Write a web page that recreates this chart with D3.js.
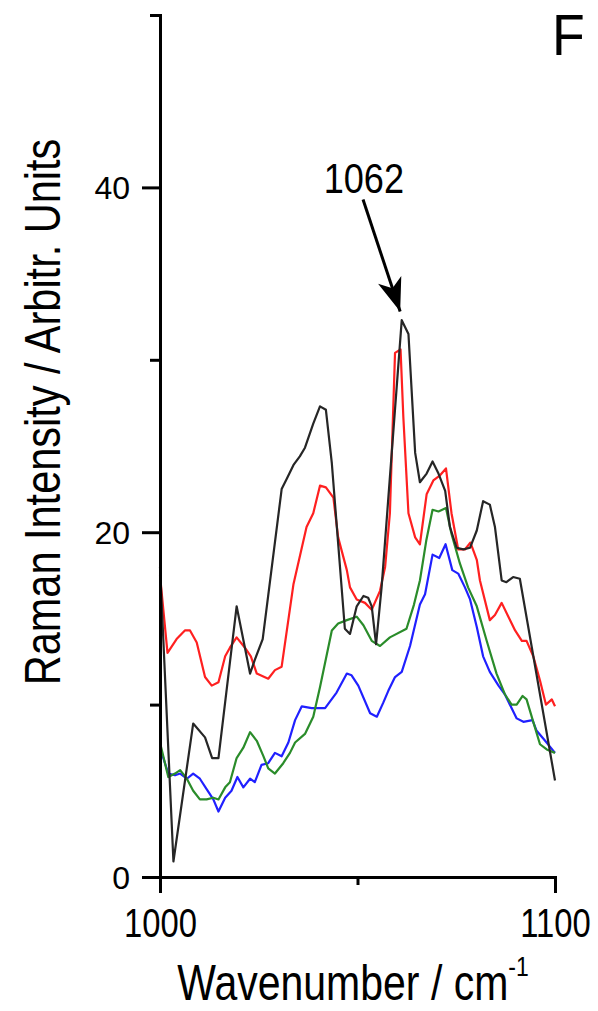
<!DOCTYPE html>
<html>
<head>
<meta charset="utf-8">
<script src="https://cdn.jsdelivr.net/npm/d3@7"></script>
<style>
  html, body { margin: 0; padding: 0; background: #fff; }
  svg { display: block; font-family: 'Liberation Sans', Arial, sans-serif; }
</style>
</head>
<body>
<div class="canvas"></div>
<script>
// spectra (wavenumber / intensity)
const blackWn = [1000, 1003.4, 1008.4, 1011.4, 1013.2, 1014.8, 1019.4, 1022.8, 1024.0, 1026.0, 1030.8, 1032.1, 1033.8, 1035.4, 1036.7, 1038.8, 1040.5, 1042.0, 1043.5, 1046.8, 1048.1, 1049.8, 1051.5, 1052.7, 1053.6, 1054.7, 1056.1, 1061.2, 1062.9, 1064.6, 1065.8, 1067.5, 1069.0, 1070.5, 1072.2, 1073.4, 1075.1, 1076.8, 1078.5, 1080.2, 1081.8, 1083.5, 1084.8, 1086.5, 1087.7, 1089.4, 1091.1, 1100];
const blackInt = [18.0, 0.9, 8.9, 8.1, 6.9, 6.9, 15.7, 11.8, 12.6, 13.8, 22.5, 23.1, 23.9, 24.4, 24.9, 26.3, 27.3, 27.1, 24.0, 14.4, 14.1, 15.7, 16.3, 16.2, 15.7, 13.5, 16.8, 32.3, 31.5, 24.6, 22.9, 23.4, 24.1, 23.4, 22.4, 20.3, 19.1, 19.0, 19.1, 20.1, 21.8, 21.6, 20.3, 17.2, 17.1, 17.4, 17.3, 5.6];

const redWn = [1000, 1001.9, 1004.2, 1006.3, 1007.6, 1009.3, 1011.4, 1013.1, 1014.8, 1016.5, 1017.7, 1019.4, 1021.5, 1023.0, 1024.5, 1027.4, 1029.1, 1030.8, 1033.8, 1035.9, 1037.1, 1038.8, 1040.5, 1042.0, 1043.9, 1045.1, 1047.3, 1048.1, 1049.8, 1051.9, 1053.6, 1055.7, 1057.0, 1058.2, 1059.5, 1060.9, 1061.6, 1062.9, 1064.6, 1065.8, 1067.5, 1069.2, 1070.9, 1072.4, 1073.8, 1075.5, 1077.2, 1078.6, 1080.2, 1081.0, 1083.5, 1084.8, 1086.5, 1088.2, 1089.9, 1091.6, 1092.8, 1094.5, 1096.2, 1097.7, 1099.2, 1100];
const redInt = [17.5, 13.0, 13.8, 14.3, 14.3, 13.6, 11.6, 11.1, 11.3, 12.8, 13.3, 13.9, 13.3, 12.8, 11.8, 11.5, 12.0, 12.2, 17.0, 19.1, 20.3, 21.1, 22.7, 22.6, 22.0, 19.7, 17.8, 16.8, 16.1, 15.9, 15.5, 16.6, 18.0, 21.1, 30.4, 30.6, 26.7, 21.1, 19.7, 19.3, 22.2, 23.0, 23.3, 23.7, 21.1, 19.0, 19.0, 19.4, 18.4, 17.2, 14.9, 15.2, 15.9, 15.1, 14.3, 13.7, 13.7, 12.8, 11.4, 10.0, 10.3, 9.9];

const greenWn = [1000, 1002.1, 1003.8, 1005.1, 1006.8, 1008.4, 1010.1, 1011.8, 1013.5, 1014.8, 1016.5, 1017.7, 1019.4, 1021.1, 1022.8, 1024.5, 1026.2, 1027.4, 1029.1, 1031.2, 1032.9, 1034.2, 1036.7, 1038.8, 1040.5, 1043.5, 1045.1, 1047.3, 1049.8, 1051.5, 1053.6, 1055.7, 1058.2, 1062.4, 1064.3, 1065.8, 1067.4, 1069.0, 1070.5, 1072.4, 1073.8, 1075.9, 1078.0, 1080.2, 1082.7, 1085.2, 1087.3, 1089.0, 1090.3, 1091.8, 1092.8, 1094.5, 1096.2, 1097.9, 1100];
const greenInt = [7.8, 5.8, 6.0, 6.2, 5.7, 5.0, 4.5, 4.5, 4.6, 4.5, 5.2, 5.5, 6.9, 7.5, 8.4, 7.9, 7.0, 6.3, 6.0, 6.6, 7.2, 7.8, 8.3, 9.3, 11.0, 14.3, 14.7, 14.9, 15.1, 14.6, 13.7, 13.4, 13.9, 14.4, 15.8, 17.2, 19.5, 21.3, 21.2, 21.4, 19.9, 18.2, 16.8, 15.7, 13.7, 11.8, 10.6, 10.0, 10.0, 10.5, 10.3, 9.0, 7.7, 7.4, 7.2];

const blueWn = [1000, 1002.1, 1003.8, 1005.1, 1006.8, 1008.4, 1010.1, 1011.8, 1013.5, 1014.8, 1016.5, 1018.1, 1019.6, 1021.1, 1022.8, 1024.0, 1025.7, 1027.4, 1029.1, 1030.8, 1032.5, 1034.2, 1035.9, 1038.4, 1041.8, 1044.7, 1047.3, 1048.5, 1050.2, 1053.2, 1054.9, 1056.5, 1057.8, 1059.5, 1061.2, 1063.3, 1065.8, 1067.1, 1069.0, 1070.7, 1072.3, 1074.0, 1075.5, 1077.2, 1078.5, 1080.2, 1081.8, 1083.5, 1085.7, 1087.3, 1089.0, 1090.3, 1092.0, 1094.3, 1095.3, 1097.5, 1100];
const blueInt = [7.5, 6.0, 5.9, 6.0, 5.7, 6.0, 5.7, 5.1, 4.5, 3.8, 4.6, 5.0, 5.8, 5.2, 5.7, 5.5, 6.5, 6.6, 7.2, 7.0, 7.8, 9.1, 9.9, 9.8, 9.8, 10.7, 11.8, 11.7, 11.1, 9.5, 9.3, 10.1, 10.8, 11.6, 11.9, 13.4, 15.8, 16.4, 18.7, 18.5, 19.3, 17.8, 17.6, 16.8, 16.1, 14.5, 12.8, 11.9, 11.1, 10.6, 9.8, 9.2, 9.0, 9.1, 8.5, 7.9, 7.2];

// axis ticks
const yMajorTicks = [0, 20, 40];
const yMinorTicks = [10, 30, 50];
const xMajorTicks = [1000, 1100];
const xMinorTicks = [1050];

// peak annotation: label position, arrow tail and tip (data units)
const peakLabel = '1062';
const labelAt = [1051.6, 39.65];
const arrowFrom = [1051.4, 39.3];
const arrowTo = [1060.8, 32.8];

const svg = d3.select('.canvas')
	.append('svg')
	.attr('width', 598)
	.attr('height', 1011);

// scales
const x = d3.scaleLinear()
	.domain([1000, 1100])
	.range([160, 555]);
const y = d3.scaleLinear()
	.domain([0, 50])
	.range([877, 15]);

const series = [
	{ wn: blueWn, val: blueInt, color: '#2020ff' },
	{ wn: greenWn, val: greenInt, color: '#2a8c2a' },
	{ wn: redWn, val: redInt, color: '#ff2020' },
	{ wn: blackWn, val: blackInt, color: '#262626' }
];

const line = d3.line()
	.x(d => x(d[0]))
	.y(d => y(d[1]));

svg.append('g')
	.selectAll('path')
	.data(series)
	.enter()
	.append('path')
	.attr('fill', 'none')
	.attr('stroke', d => d.color)
	.attr('stroke-width', 2.2)
	.attr('stroke-linejoin', 'round')
	.attr('d', d => line(d.wn.map((w, i) => [w, d.val[i]])));

// axes
const yMajor = svg.append('g')
	.attr('transform', `translate(${x(1000)},0)`)
	.call(d3.axisLeft(y).tickValues(yMajorTicks).tickSize(18).tickSizeOuter(0).tickPadding(12));
const yMinor = svg.append('g')
	.attr('transform', `translate(${x(1000)},0)`)
	.call(d3.axisLeft(y).tickValues(yMinorTicks).tickSize(10).tickSizeOuter(0).tickFormat(''));
const xMajor = svg.append('g')
	.attr('transform', `translate(0,${y(0)})`)
	.call(d3.axisBottom(x).tickValues(xMajorTicks).tickSize(16).tickSizeOuter(0).tickFormat(d3.format('d')));
const xMinor = svg.append('g')
	.attr('transform', `translate(0,${y(0)})`)
	.call(d3.axisBottom(x).tickValues(xMinorTicks).tickSize(8).tickSizeOuter(0).tickFormat(''));

[yMajor, yMinor, xMajor, xMinor].forEach(g => {
	g.selectAll('path, line')
		.attr('stroke', '#000')
		.attr('stroke-width', 3);
	g.select('.domain').attr('stroke-linecap', 'square');
});

yMajor.selectAll('text')
	.attr('fill', '#000')
	.attr('font-size', 32)
	.attr('dy', '0.35em');

xMajor.selectAll('text')
	.attr('fill', '#000')
	.attr('font-size', 41)
	.attr('y', 0)
	.attr('dy', null)
	.attr('transform', 'translate(0,60) scale(0.8,1)');

// axis titles
svg.append('text')
	.attr('transform', 'translate(60,412) rotate(-90) scale(0.83,1)')
	.attr('text-anchor', 'middle')
	.attr('font-size', 50)
	.attr('fill', '#000')
	.text('Raman Intensity / Arbitr. Units');

const xTitle = svg.append('text')
	.attr('transform', 'translate(353,1000) scale(0.82,1)')
	.attr('text-anchor', 'middle')
	.attr('font-size', 50)
	.attr('fill', '#000');
xTitle.append('tspan').text('Wavenumber / cm');
xTitle.append('tspan')
	.attr('font-size', 28)
	.attr('dy', -24)
	.text('-1');

// panel letter
svg.append('text')
	.attr('transform', 'translate(552,55) scale(0.94,1)')
	.attr('font-size', 57)
	.attr('fill', '#000')
	.text('F');

// peak annotation
svg.append('defs')
	.append('marker')
	.attr('id', 'head')
	.attr('markerUnits', 'userSpaceOnUse')
	.attr('markerWidth', 40)
	.attr('markerHeight', 40)
	.attr('viewBox', '-32 -14 36 28')
	.attr('refX', 0)
	.attr('refY', 0)
	.attr('orient', 'auto')
	.append('path')
	.attr('d', 'M0,0 L-30,-11 L-22,0 L-30,11 Z')
	.attr('fill', '#000');

svg.append('line')
	.attr('x1', x(arrowFrom[0]))
	.attr('y1', y(arrowFrom[1]))
	.attr('x2', x(arrowTo[0]))
	.attr('y2', y(arrowTo[1]))
	.attr('stroke', '#000')
	.attr('stroke-width', 3)
	.attr('marker-end', 'url(#head)');

svg.append('text')
	.attr('transform', `translate(${x(labelAt[0])},${y(labelAt[1])}) scale(0.86,1)`)
	.attr('text-anchor', 'middle')
	.attr('font-size', 42)
	.attr('fill', '#000')
	.text(peakLabel);
</script>
</body>
</html>
